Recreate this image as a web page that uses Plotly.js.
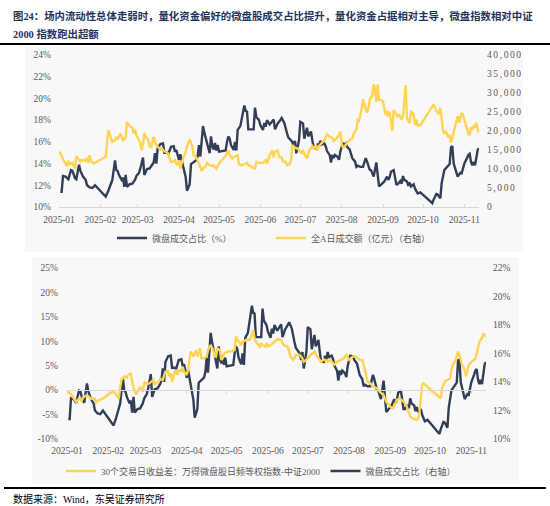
<!DOCTYPE html>
<html><head><meta charset="utf-8">
<script src="https://cdn.plot.ly/plotly-3.0.1.min.js"></script>
<style>
html,body{margin:0;padding:0;background:#fff;}
#chart{width:550px;height:506px;}
.y2tick text{letter-spacing:1.6px;}
</style>
</head><body><div id="chart"></div>
<script>
// ---- data (x = days after 2025-01-01) ----
const shareDays = [1,2,3,5,7,9,10,12,13,15,16,18,20,21,23,25,27,35,37,39,40,42,43,44,45,47,48,49,50,51,53,55,57,58,60,61,63,64,66,68,70,71,72,73,74,76,78,79,81,82,84,86,87,88,90,91,93,95,96,98,99,101,103,104,105,106,107,108,109,110,111,112,113,114,115,116,117,118,119,120,122,125,126,127,128,129,131,132,133,134,136,137,139,140,141,142,144,146,147,148,150,151,153,154,155,156,158,160,161,162,164,166,167,169,170,171,172,174,175,176,177,178,179,180,181,183,184,185,186,187,189,190,191,193,194,195,196,197,199,200,201,203,204,205,206,207,209,210,211,213,214,215,216,218,219,220,222,223,224,226,228,230,231,233,234,235,236,238,239,240,241,243,244,246,247,248,249,251,252,253,254,256,257,258,259,261,262,263,264,266,267,268,269,271,280,281,283,284,286,287,288,289,290,291,293,294,295,296,297,298,299,301,302,303,304,306,307,308,309,310,311,312,313,314,315];
const shareValues = [11.4,11.4,12.85,12.8,12.55,13.4,13.35,12.65,12.55,13.9,13.35,12.8,12.5,12.0,11.8,11.75,12.0,10.95,11.5,12.1,12.5,14.3,13.4,13.3,12.95,12.5,12.7,11.85,12.95,11.85,12.1,12.15,12.5,12.85,13.15,13.55,14.55,12.95,13.5,13.55,13.85,14.1,14.95,14.0,15.4,15.8,15.85,15.0,15.0,14.9,15.55,15.6,15.1,15.25,14.3,14.85,13.8,12.75,11.5,12.1,13.95,14.1,14.3,14.7,15.7,14.65,16.1,17.45,16.85,16.3,15.85,15.5,14.95,16.5,15.6,15.3,15.9,15.2,15.7,15.1,15.15,15.2,16.0,16.5,16.3,15.7,15.25,16.0,15.2,17.1,17.45,18.15,19.35,18.85,18.8,17.15,17.15,17.15,19.15,18.3,18.0,17.55,17.1,17.75,17.4,18.0,17.6,17.85,18.05,17.15,17.7,18.0,18.2,17.75,17.15,16.8,16.4,16.15,16.0,15.55,16.1,14.95,15.45,16.15,17.85,17.7,16.3,16.85,17.3,16.5,16.95,16.15,15.45,15.4,15.85,15.6,16.1,15.75,15.85,15.6,15.15,14.8,14.1,14.8,14.5,14.8,14.6,14.35,15.1,15.9,15.7,15.85,15.55,15.3,14.9,14.5,14.2,13.7,13.8,13.7,13.7,14.5,14.2,13.45,13.4,13.1,12.8,14.1,12.8,11.9,12.0,12.25,12.35,12.8,12.5,12.75,13.25,13.4,12.8,12.1,12.1,12.4,12.15,12.85,12.5,12.35,11.95,12.25,11.9,12.1,11.7,11.45,11.25,11.35,10.35,10.7,11.2,11.15,10.8,12.2,12.85,13.4,13.55,13.7,13.95,15.5,15.6,14.0,13.55,13.25,12.8,13.15,13.1,13.55,14.0,14.5,14.8,14.9,14.15,13.85,14.15,13.85,14.8,15.25,15.4];

const turnoverDays = [0,1,3,5,6,7,8,10,11,12,13,15,16,17,19,20,21,22,23,24,26,35,37,39,40,42,43,44,45,46,48,50,51,52,53,55,56,57,58,60,61,62,63,64,65,67,68,69,70,71,72,73,75,76,77,78,80,82,83,84,85,87,88,89,90,91,93,95,96,97,98,100,101,102,103,105,106,107,108,110,111,113,115,116,118,120,122,124,126,127,128,130,131,133,134,135,137,139,141,142,144,146,147,148,150,153,155,156,157,158,160,161,162,164,165,167,168,170,171,173,174,175,177,179,180,182,183,185,186,187,188,190,191,193,194,195,197,199,201,203,205,206,208,210,211,212,213,215,216,218,220,221,223,224,225,227,228,230,231,232,233,235,236,237,238,239,240,242,243,245,246,247,248,250,251,252,254,255,257,258,260,261,262,263,264,266,267,268,269,271,281,282,283,285,286,287,288,289,290,292,293,294,295,297,298,299,300,302,303,304,305,307,308,309,310,311,312,313,314,315];
const turnoverValues = [13800,14240,12570,11250,10720,12130,11250,11600,10990,10110,13360,12480,11870,12480,12130,12130,13000,11600,13620,12130,11430,13190,20220,18460,17140,17580,18460,17760,18640,19340,17580,18280,22410,21800,21270,20920,19340,20390,18900,17580,16700,14940,16700,19510,18460,17580,16000,15560,17320,18460,17140,16260,15560,14940,15650,14940,14500,14060,12750,11870,11870,12310,11430,10990,12310,10110,12750,14500,16000,17140,17760,16000,13620,13360,13000,11430,10550,9490,10110,10720,11600,10990,10720,10990,10110,11430,12310,13000,14060,14940,13620,12750,13190,13360,13620,11250,10990,11250,11600,10990,10720,10110,10110,11870,11600,11600,12310,11430,12480,13600,14900,13000,14500,14900,13200,13000,11900,11900,11000,11250,12300,16300,15600,15400,14900,14200,14700,13600,12700,14100,15100,16000,15400,16000,14900,16000,16700,17600,19200,18500,18200,17400,18000,18900,19800,16700,15600,16300,17100,17600,18000,19300,20400,22850,22600,25900,28300,25900,24800,25900,28100,29400,32300,31200,27700,32300,28300,28100,27700,24200,25300,23700,25050,20000,25500,25050,23700,24400,23000,23900,32100,23300,22700,22000,25300,24200,21500,23000,21500,21500,27000,26200,25300,24400,26100,23300,20000,19500,20000,18300,18900,16900,18300,21300,23300,23900,22200,24800,24200,22850,22200,19300,18900,20900,20400,21300,20900,22200,20400,19500];

const spreadDays = [0,1,3,4,6,7,9,11,12,14,15,17,18,20,21,22,23,25,27,35,37,38,39,40,41,43,45,46,48,49,50,52,53,54,55,57,58,59,60,62,64,65,66,67,69,70,72,73,74,76,77,78,79,81,82,83,84,86,87,88,90,91,92,93,95,97,98,100,101,103,105,106,108,110,111,112,113,115,116,117,118,121,123,126,127,128,130,131,132,135,137,138,140,141,142,144,145,146,147,149,150,151,153,156,158,161,163,166,167,168,170,171,172,175,177,178,181,183,186,188,191,193,196,198,201,203,206,208,210,212,215,217,220,222,224,225,226,228,229,230,233,234,235,238,240,243,245,248,250,253,255,258,260,263,264,265,267,268,272,281,282,283,284,285,288,289,290,292,294,295,296,297,299,300,302,303,305,307,308,309,310,312,313,314,315];
const spreadValues = [-0.1,-0.3,-0.85,-1.3,-1.9,-2.35,-1.7,-2.2,-1.5,-1.3,-1.1,-1.5,-1.8,-1.7,-1.8,-2.5,-2.2,-2.0,-1.7,-0.2,-0.9,-1.3,-1.7,0.7,2.1,2.8,2.6,3.1,3.4,1.7,0.4,-0.9,-0.4,0.4,0.7,-0.3,1.4,1.6,1.2,1.4,1.9,2.1,1.1,1.4,1.7,2.3,2.1,3.1,3.8,3.9,2.8,3.4,1.7,3.8,4.1,3.1,4.1,3.9,4.8,3.8,3.1,4.1,5.8,7.9,6.9,8.2,6.9,8.6,6.5,6.5,6.9,8.2,9.2,8.2,6.9,6.9,8.6,8.1,6.2,6.5,7.5,7.9,7.9,8.2,11.0,10.3,9.6,9.2,9.9,10.3,10.3,10.6,12.3,10.6,9.9,9.2,8.9,9.6,9.2,8.9,9.6,9.0,9.2,9.9,10.4,10.3,9.2,8.9,7.9,6.9,6.2,6.5,7.2,7.2,6.5,5.8,6.5,7.2,7.9,6.9,5.8,6.3,5.8,6.2,5.2,5.8,6.2,6.5,7.2,6.2,6.9,6.9,6.2,6.2,4.1,3.1,1.7,1.4,1.1,0.7,0.4,0.0,-0.3,-1.0,-2.35,-3.4,-3.7,-2.0,-1.7,-2.35,-3.0,-5.4,-5.8,-6.1,-5.8,-4.4,1.1,1.4,0.4,-1.7,0.4,1.1,1.7,2.0,2.4,4.1,5.2,6.0,7.9,7.2,5.8,5.2,4.1,2.8,5.2,5.5,6.0,6.4,7.5,8.9,9.9,10.7,11.6,11.3,10.95];

const monthTicks = ['2025-01-01','2025-02-01','2025-03-01','2025-04-01','2025-05-01','2025-06-01','2025-07-01','2025-08-01','2025-09-01','2025-10-01','2025-11-01'];
const topLeftTicks = [10,12,14,16,18,20,22,24];
const topRightTicks = [0,5000,10000,15000,20000,25000,30000,35000,40000];
const bottomLeftTicks = [-10,-5,0,5,10,15,20,25];
const bottomRightTicks = [10,12,14,16,18,20,22];

const names = {
  share: '微盘成交占比（%）',
  turnover: '全A日成交额（亿元）（右轴）',
  spread: '30个交易日收益差：万得微盘股日频等权指数-中证2000',
  shareRight: '微盘成交占比（右轴）'
};
const titleLine1 = '图24：场内流动性总体走弱时，量化资金偏好的微盘股成交占比提升，量化资金占据相对主导，微盘指数相对中证';
const titleLine2 = '2000 指数跑出超额';
const sourceText = '数据来源：Wind，东吴证券研究所';

// ---- helpers ----
function dayToDate(d){ return new Date(Date.UTC(2025,0,1) + d*86400000).toISOString().slice(0,10); }
const W = 550, H = 506;
const px = v => v / W, py = v => 1 - v / H;
const NAVY = '#333f57', GOLD = '#ffd452';
const FONT = 'Liberation Serif, Noto Sans CJK SC, serif';
const tickFont = {family: FONT, size: 9.5, color: '#595959'};
const xRange = [dayToDate(0), dayToDate(315)];
const monthLabels = monthTicks.map(m => m.slice(0,7));
const pct = a => a.map(v => v + '%');

const topDom = [py(207), py(55)];
const botDom = [py(439), py(268)];
const botLeftRange = [-10, 25];
const zeroPos = botDom[0] + (0 - botLeftRange[0]) / (botLeftRange[1] - botLeftRange[0]) * (botDom[1] - botDom[0]);

const shareDates = shareDays.map(dayToDate);
const traces = [
  {x: shareDates, y: shareValues, xaxis: 'x', yaxis: 'y', type: 'scatter', mode: 'lines',
   name: names.share, line: {color: NAVY, width: 2.4}, legend: 'legend'},
  {x: turnoverDays.map(dayToDate), y: turnoverValues, xaxis: 'x', yaxis: 'y2', type: 'scatter', mode: 'lines',
   name: names.turnover, line: {color: GOLD, width: 2.4}, legend: 'legend'},
  {x: spreadDays.map(dayToDate), y: spreadValues, xaxis: 'x3', yaxis: 'y3', type: 'scatter', mode: 'lines',
   name: names.spread, line: {color: GOLD, width: 2.4}, legend: 'legend2'},
  {x: shareDates, y: shareValues, xaxis: 'x2', yaxis: 'y4', type: 'scatter', mode: 'lines',
   name: names.shareRight, line: {color: NAVY, width: 2.4}, legend: 'legend2'}
];

const baseY = {showgrid: false, zeroline: false, showline: false, ticks: '', tickfont: tickFont, fixedrange: true};
const legendFont = {family: FONT, size: 9, color: '#595959'};
const layout = {
  width: W, height: H, margin: {l: 0, r: 0, t: 0, b: 0},
  paper_bgcolor: '#ffffff', plot_bgcolor: 'rgba(0,0,0,0)',
  font: {family: FONT},
  xaxis: {domain: [px(59), px(479)], anchor: 'y', type: 'date', range: xRange,
    tickvals: monthTicks, ticktext: monthLabels, showgrid: false, zeroline: false,
    showline: true, linecolor: '#d9d9d9', linewidth: 1, ticks: 'inside', ticklen: 3, tickcolor: '#d9d9d9',
    tickfont: tickFont, ticklabelstandoff: 4, fixedrange: true},
  yaxis: Object.assign({domain: topDom, anchor: 'x', range: [10, 24], tickvals: topLeftTicks, ticktext: pct(topLeftTicks), ticklabelstandoff: 7}, baseY),
  yaxis2: Object.assign({overlaying: 'y', side: 'right', anchor: 'x', range: [0, 40000], tickvals: topRightTicks,
    ticktext: topRightTicks.map(v => v.toLocaleString('en-US')), ticklabelstandoff: 7}, baseY),
  xaxis2: {domain: [px(67), px(486)], anchor: 'y3', type: 'date', range: xRange,
    tickvals: monthTicks, ticktext: monthLabels, showgrid: false, zeroline: false, showline: false, ticks: '',
    tickfont: tickFont, ticklabelstandoff: 4, fixedrange: true},
  xaxis3: {overlaying: 'x2', anchor: 'free', position: zeroPos, type: 'date', range: xRange,
    tickvals: monthTicks, showticklabels: false, showgrid: false, zeroline: false,
    showline: true, linecolor: '#d9d9d9', linewidth: 1, ticks: 'outside', ticklen: 3, tickcolor: '#d9d9d9', fixedrange: true},
  yaxis3: Object.assign({domain: botDom, anchor: 'x2', range: botLeftRange, tickvals: bottomLeftTicks, ticktext: pct(bottomLeftTicks), ticklabelstandoff: 8}, baseY),
  yaxis4: Object.assign({overlaying: 'y3', side: 'right', anchor: 'x2', range: [10, 22], tickvals: bottomRightTicks,
    ticktext: pct(bottomRightTicks), ticklabelstandoff: 6}, baseY),
  showlegend: true,
  legend: {orientation: 'h', x: px(112), xanchor: 'left', y: py(238), yanchor: 'middle',
    font: legendFont, bgcolor: 'rgba(0,0,0,0)',
    entrywidth: 114, entrywidthmode: 'pixels', itemwidth: 30, traceorder: 'normal'},
  legend2: {orientation: 'h', x: px(61), xanchor: 'left', y: py(471), yanchor: 'middle',
    font: legendFont, bgcolor: 'rgba(0,0,0,0)', itemwidth: 30, traceorder: 'normal'},
  shapes: [
    {type: 'rect', xref: 'paper', yref: 'paper', x0: px(25), x1: px(523), y0: py(252), y1: py(47),
     fillcolor: '#f8f8f8', line: {width: 0}, layer: 'below'},
    {type: 'rect', xref: 'paper', yref: 'paper', x0: px(32), x1: px(519), y0: py(483), y1: py(257),
     fillcolor: '#f8f8f8', line: {width: 0}, layer: 'below'},
    {type: 'line', xref: 'paper', yref: 'paper', x0: 0, x1: 1, y0: py(44), y1: py(44), line: {color: '#000', width: 2}},
    {type: 'line', xref: 'paper', yref: 'paper', x0: px(4), x1: px(546), y0: py(488), y1: py(488), line: {color: '#000', width: 2}}
  ],
  annotations: [
    {text: '<b>' + titleLine1 + '</b>', xref: 'paper', yref: 'paper', x: px(11), y: py(16), xanchor: 'left', yanchor: 'middle',
     showarrow: false, font: {family: FONT, size: 10.4, color: '#1f3560'}},
    {text: '<b>' + titleLine2 + '</b>', xref: 'paper', yref: 'paper', x: px(11), y: py(34), xanchor: 'left', yanchor: 'middle',
     showarrow: false, font: {family: FONT, size: 10.4, color: '#1f3560'}},
    {text: sourceText, xref: 'paper', yref: 'paper', x: px(11), y: py(499), xanchor: 'left', yanchor: 'middle',
     showarrow: false, font: {family: FONT, size: 10, color: '#000'}}
  ]
};
Plotly.newPlot('chart', traces, layout, {staticPlot: true, displayModeBar: false});
</script>
</body></html>
